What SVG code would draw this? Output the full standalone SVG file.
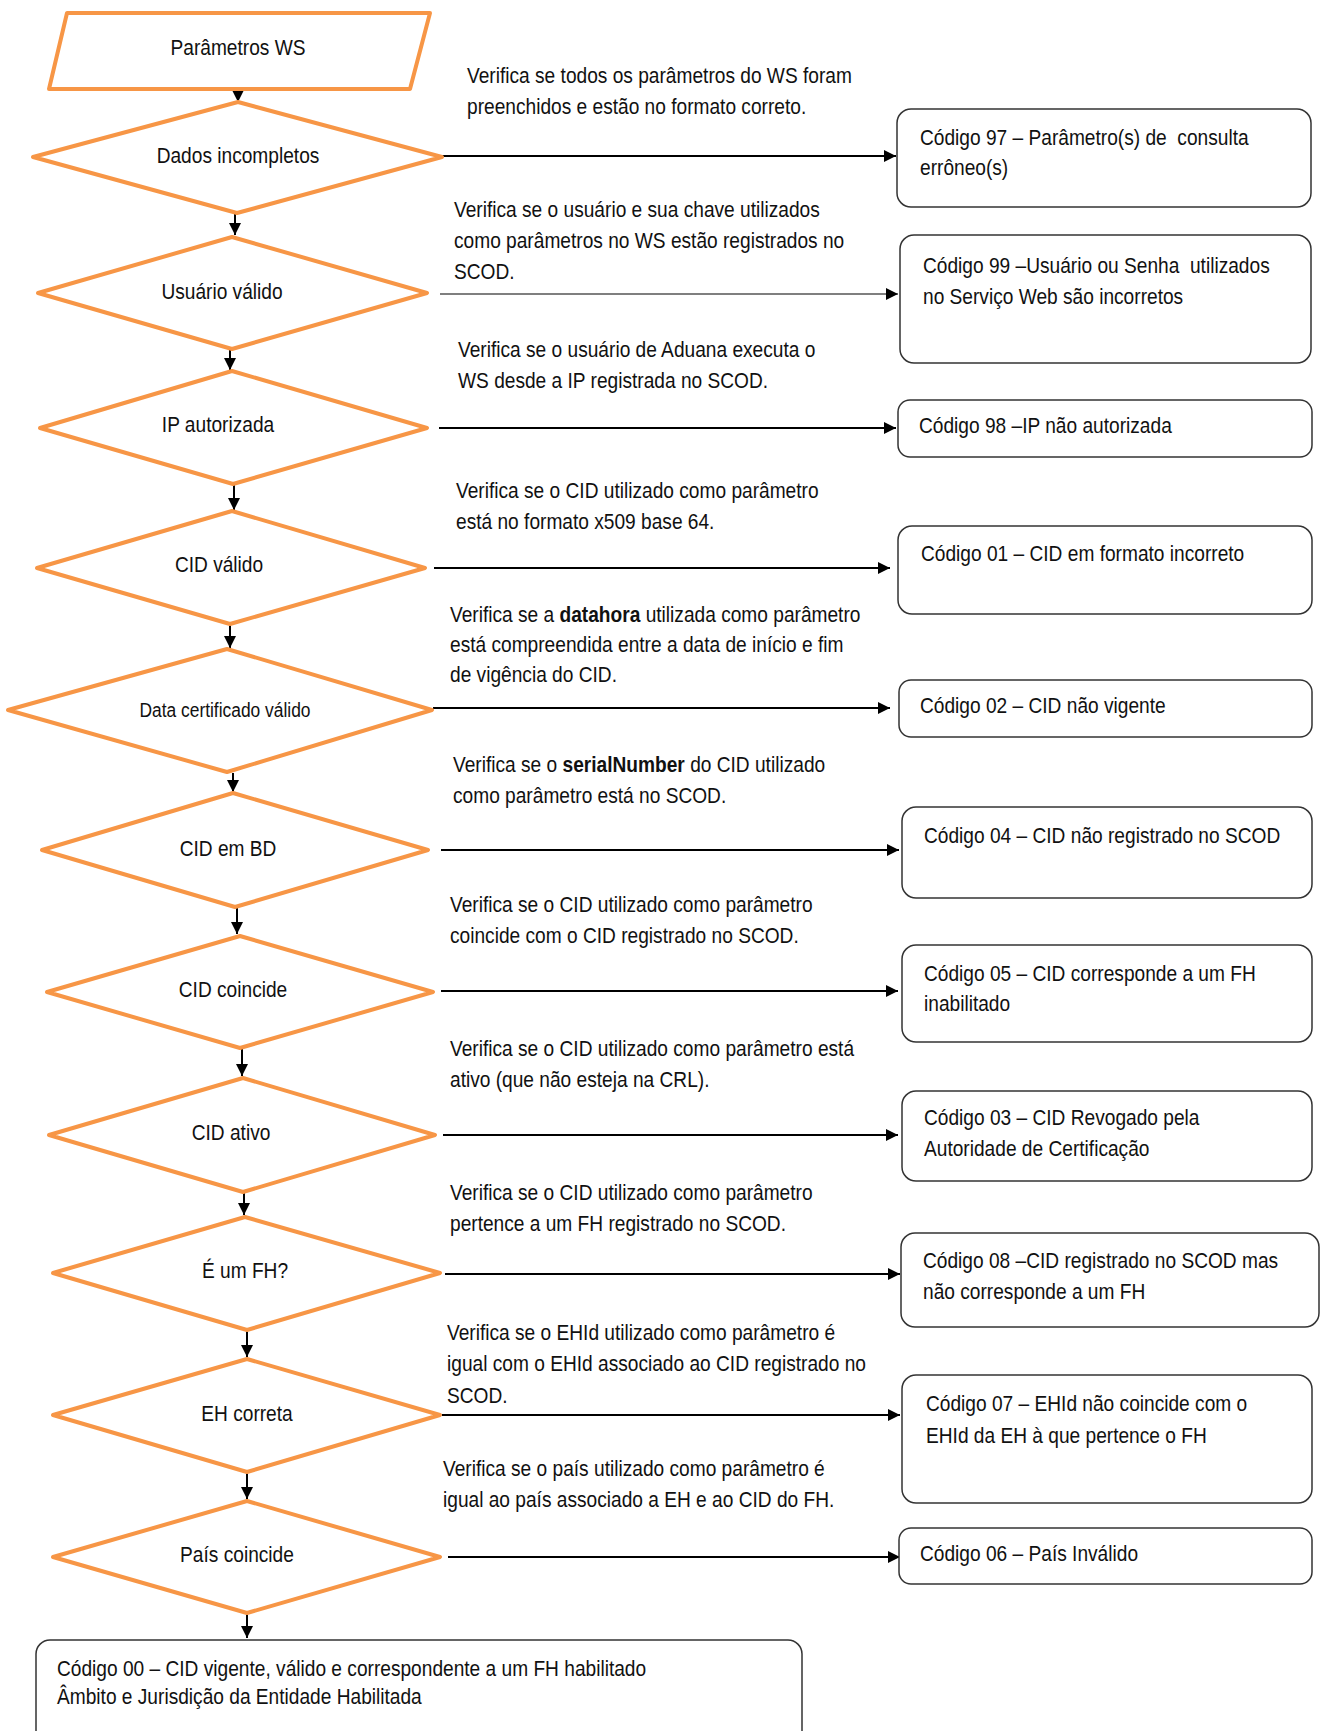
<svg xmlns="http://www.w3.org/2000/svg" width="1320" height="1731" viewBox="0 0 1320 1731">
<style>
text{font-family:"Liberation Sans Narrow","Arial Narrow","Liberation Sans",sans-serif;font-size:22px;fill:#111}
.lbl{text-anchor:middle}
.shape{fill:#fff;stroke:#F79646;stroke-width:4;stroke-linejoin:round}
.box{fill:#fff;stroke:#333;stroke-width:1.5}
.c{stroke:#000;stroke-width:2;fill:none}
.thin{stroke-width:1.2}
</style>
<defs>
<marker id="ah" markerUnits="userSpaceOnUse" markerWidth="13" markerHeight="12" refX="12" refY="6" orient="auto"><path d="M0,0 L12,6 L0,12 z" fill="#000"/></marker>
</defs>
<g id="connectors">
<line class="c" x1="238" y1="89" x2="238" y2="102" marker-end="url(#ah)"/>
<line class="c" x1="235" y1="213" x2="235" y2="235" marker-end="url(#ah)"/>
<line class="c" x1="230" y1="350" x2="230" y2="370" marker-end="url(#ah)"/>
<line class="c" x1="234" y1="485" x2="234" y2="510" marker-end="url(#ah)"/>
<line class="c" x1="230" y1="625" x2="230" y2="648" marker-end="url(#ah)"/>
<line class="c" x1="233" y1="773" x2="233" y2="792" marker-end="url(#ah)"/>
<line class="c" x1="237" y1="908" x2="237" y2="934" marker-end="url(#ah)"/>
<line class="c" x1="242" y1="1049" x2="242" y2="1076" marker-end="url(#ah)"/>
<line class="c" x1="244" y1="1193" x2="244" y2="1215" marker-end="url(#ah)"/>
<line class="c" x1="247" y1="1331" x2="247" y2="1357" marker-end="url(#ah)"/>
<line class="c" x1="247" y1="1473" x2="247" y2="1499" marker-end="url(#ah)"/>
<line class="c" x1="247" y1="1614" x2="247" y2="1638" marker-end="url(#ah)"/>
<line class="c" x1="442" y1="156" x2="896" y2="156" marker-end="url(#ah)"/>
<line class="c thin" x1="440" y1="294" x2="898" y2="294" marker-end="url(#ah)"/>
<line class="c" x1="439" y1="428" x2="896" y2="428" marker-end="url(#ah)"/>
<line class="c" x1="434" y1="568" x2="890" y2="568" marker-end="url(#ah)"/>
<line class="c" x1="433" y1="708" x2="890" y2="708" marker-end="url(#ah)"/>
<line class="c" x1="441" y1="850" x2="899" y2="850" marker-end="url(#ah)"/>
<line class="c" x1="441" y1="991" x2="898" y2="991" marker-end="url(#ah)"/>
<line class="c" x1="443" y1="1135" x2="898" y2="1135" marker-end="url(#ah)"/>
<line class="c" x1="445" y1="1274" x2="900" y2="1274" marker-end="url(#ah)"/>
<line class="c" x1="442" y1="1415" x2="900" y2="1415" marker-end="url(#ah)"/>
<line class="c" x1="448" y1="1557" x2="900" y2="1557" marker-end="url(#ah)"/>
</g>
<g id="start"><polygon class="shape" points="67,13 430,13 410,89 49,89"/><text class="lbl" transform="translate(238 55) scale(.87 1)">Parâmetros WS</text></g>
<g id="d1"><polygon class="shape" points="33,157 238,102 442,157 237,213"/><text class="lbl" transform="translate(238 163) scale(.87 1)">Dados incompletos</text></g>
<g id="d2"><polygon class="shape" points="38,293 232,237 427,293 232,349"/><text class="lbl" transform="translate(222 299) scale(.87 1)">Usuário válido</text></g>
<g id="d3"><polygon class="shape" points="40,428 232,371 427,428 233,484"/><text class="lbl" transform="translate(218 432) scale(.87 1)">IP autorizada</text></g>
<g id="d4"><polygon class="shape" points="37,568 232,511 425,568 230,624"/><text class="lbl" transform="translate(219 572) scale(.87 1)">CID válido</text></g>
<g id="d5"><polygon class="shape" points="8,710 227,649 432,710 227,772"/><text class="lbl" transform="translate(225 717) scale(.87 1)" style="font-size:20px">Data certificado válido</text></g>
<g id="d6"><polygon class="shape" points="42,850 233,793 428,850 235,907"/><text class="lbl" transform="translate(228 856) scale(.87 1)">CID em BD</text></g>
<g id="d7"><polygon class="shape" points="47,992 240,936 433,992 240,1048"/><text class="lbl" transform="translate(233 997) scale(.87 1)">CID coincide</text></g>
<g id="d8"><polygon class="shape" points="49,1135 243,1078 435,1135 243,1192"/><text class="lbl" transform="translate(231 1140) scale(.87 1)">CID ativo</text></g>
<g id="d9"><polygon class="shape" points="53,1273 245,1217 440,1273 247,1330"/><text class="lbl" transform="translate(245 1278) scale(.87 1)">É um FH?</text></g>
<g id="d10"><polygon class="shape" points="53,1415 247,1359 440,1415 247,1472"/><text class="lbl" transform="translate(247 1421) scale(.87 1)">EH correta</text></g>
<g id="d11"><polygon class="shape" points="53,1557 247,1501 440,1557 247,1613"/><text class="lbl" transform="translate(237 1562) scale(.87 1)">País coincide</text></g>
<g id="b97"><rect class="box" x="897" y="109" width="414" height="98" rx="14"/><text transform="translate(920 145) scale(.87 1)"><tspan x="0" y="0">Código 97 – Parâmetro(s) de&#160; consulta</tspan><tspan x="0" y="30">errôneo(s)</tspan></text></g>
<g id="b99"><rect class="box" x="900" y="235" width="411" height="128" rx="14"/><text transform="translate(923 273) scale(.87 1)"><tspan x="0" y="0">Código 99 –Usuário ou Senha&#160; utilizados</tspan><tspan x="0" y="31">no Serviço Web são incorretos</tspan></text></g>
<g id="b98"><rect class="box" x="898" y="400" width="414" height="57" rx="12"/><text transform="translate(919 433) scale(.87 1)">Código 98 –IP não autorizada</text></g>
<g id="b01"><rect class="box" x="898" y="526" width="414" height="88" rx="14"/><text transform="translate(921 561) scale(.87 1)">Código 01 – CID em formato incorreto</text></g>
<g id="b02"><rect class="box" x="899" y="680" width="413" height="57" rx="12"/><text transform="translate(920 713) scale(.87 1)">Código 02 – CID não vigente</text></g>
<g id="b04"><rect class="box" x="902" y="807" width="410" height="91" rx="14"/><text transform="translate(924 843) scale(.87 1)">Código 04 – CID não registrado no SCOD</text></g>
<g id="b05"><rect class="box" x="902" y="945" width="410" height="97" rx="14"/><text transform="translate(924 981) scale(.87 1)"><tspan x="0" y="0">Código 05 – CID corresponde a um FH</tspan><tspan x="0" y="30">inabilitado</tspan></text></g>
<g id="b03"><rect class="box" x="902" y="1091" width="410" height="90" rx="14"/><text transform="translate(924 1125) scale(.87 1)"><tspan x="0" y="0">Código 03 – CID Revogado pela</tspan><tspan x="0" y="31">Autoridade de Certificação</tspan></text></g>
<g id="b08"><rect class="box" x="901" y="1233" width="418" height="94" rx="14"/><text transform="translate(923 1268) scale(.87 1)"><tspan x="0" y="0">Código 08 –CID registrado no SCOD mas</tspan><tspan x="0" y="31">não corresponde a um FH</tspan></text></g>
<g id="b07"><rect class="box" x="902" y="1375" width="410" height="128" rx="14"/><text transform="translate(926 1411) scale(.87 1)"><tspan x="0" y="0">Código 07 – EHId não coincide com o</tspan><tspan x="0" y="32">EHId da EH à que pertence o FH</tspan></text></g>
<g id="b06"><rect class="box" x="899" y="1528" width="413" height="56" rx="12"/><text transform="translate(920 1561) scale(.87 1)">Código 06 – País Inválido</text></g>
<g id="b00"><rect class="box" x="36" y="1640" width="766" height="110" rx="14"/><text transform="translate(57 1676) scale(.87 1)"><tspan x="0" y="0">Código 00 – CID vigente, válido e correspondente a um FH habilitado</tspan><tspan x="0" y="28">Âmbito e Jurisdição da Entidade Habilitada</tspan></text></g>
<g id="notes">
<text transform="translate(467 83) scale(.87 1)"><tspan x="0" y="0">Verifica se todos os parâmetros do WS foram</tspan><tspan x="0" y="31">preenchidos e estão no formato correto.</tspan></text>
<text transform="translate(454 217) scale(.87 1)"><tspan x="0" y="0">Verifica se o usuário e sua chave utilizados</tspan><tspan x="0" y="31">como parâmetros no WS estão registrados no</tspan><tspan x="0" y="62">SCOD.</tspan></text>
<text transform="translate(458 357) scale(.87 1)"><tspan x="0" y="0">Verifica se o usuário de Aduana executa o</tspan><tspan x="0" y="31">WS desde a IP registrada no SCOD.</tspan></text>
<text transform="translate(456 498) scale(.87 1)"><tspan x="0" y="0">Verifica se o CID utilizado como parâmetro</tspan><tspan x="0" y="31">está no formato x509 base 64.</tspan></text>
<text transform="translate(450 622) scale(.87 1)"><tspan x="0" y="0">Verifica se a <tspan font-weight="bold">datahora</tspan> utilizada como parâmetro</tspan><tspan x="0" y="30">está compreendida entre a data de início e fim</tspan><tspan x="0" y="60">de vigência do CID.</tspan></text>
<text transform="translate(453 772) scale(.87 1)"><tspan x="0" y="0">Verifica se o <tspan font-weight="bold">serialNumber</tspan> do CID utilizado</tspan><tspan x="0" y="31">como parâmetro está no SCOD.</tspan></text>
<text transform="translate(450 912) scale(.87 1)"><tspan x="0" y="0">Verifica se o CID utilizado como parâmetro</tspan><tspan x="0" y="31">coincide com o CID registrado no SCOD.</tspan></text>
<text transform="translate(450 1056) scale(.87 1)"><tspan x="0" y="0">Verifica se o CID utilizado como parâmetro está</tspan><tspan x="0" y="31">ativo (que não esteja na CRL).</tspan></text>
<text transform="translate(450 1200) scale(.87 1)"><tspan x="0" y="0">Verifica se o CID utilizado como parâmetro</tspan><tspan x="0" y="31">pertence a um FH registrado no SCOD.</tspan></text>
<text transform="translate(447 1340) scale(.87 1)"><tspan x="0" y="0">Verifica se o EHId utilizado como parâmetro é</tspan><tspan x="0" y="31">igual com o EHId associado ao CID registrado no</tspan><tspan x="0" y="63">SCOD.</tspan></text>
<text transform="translate(443 1476) scale(.87 1)"><tspan x="0" y="0">Verifica se o país utilizado como parâmetro é</tspan><tspan x="0" y="31">igual ao país associado a EH e ao CID do FH.</tspan></text>
</g>
</svg>
